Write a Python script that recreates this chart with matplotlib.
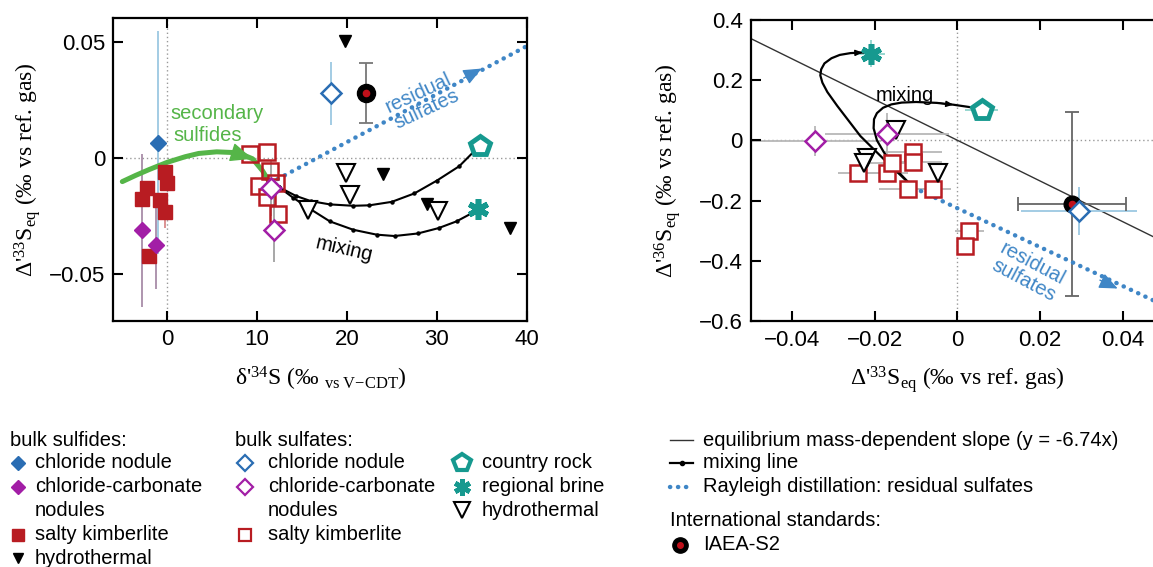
import matplotlib
matplotlib.use('Agg')
import matplotlib.pyplot as plt

plt.rcParams['font.family'] = ['Liberation Sans', 'DejaVu Sans']
plt.rcParams['mathtext.fontset'] = 'custom'
plt.rcParams['mathtext.rm'] = 'Liberation Serif'
plt.rcParams['mathtext.it'] = 'Liberation Serif:italic'
plt.rcParams['mathtext.bf'] = 'Liberation Serif:bold'

# ---------------- colours ----------------
C_BLUE = '#2a6db3'
C_PURPLE = '#a21ea6'
C_RED = '#b81c22'
C_TEAL = '#16998f'
C_DOT = '#3f86c6'
C_GREEN = '#55b548'
E_BLUE = '#9cc8e2'
E_GRAY = '#a0a0a0'
E_MAUVE = '#a88ca8'
E_RED = '#d98a8a'
E_TEAL = '#8fd3cc'

# ---------------- left panel data: d'34S vs D'33S ----------------
bs_cl_d34 = [-0.98]
bs_cl_d33 = [0.0066]
bs_cl_err = [0.048]

bs_cc_d34 = [-2.79, -1.24]
bs_cc_d33 = [-0.0312, -0.0374]
bs_cc_err = [0.033, 0.019]

bs_sk_d34 = [-2.79, -2.29, -0.79, -0.30, -0.03, -0.30, -2.00]
bs_sk_d33 = [-0.0175, -0.0131, -0.0182, -0.0059, -0.0110, -0.0232, -0.0424]
bs_sk_err = [0.002, 0.003, 0.003, 0.002, 0.002, 0.007, 0.002]

bs_hy_d34 = [19.74, 24.0, 28.9, 38.2]
bs_hy_d33 = [0.0503, -0.0070, -0.0197, -0.0302]

bo_cl_d34 = [18.26]
bo_cl_d33 = [0.0278]
bo_cl_err = [0.0135]

bo_cc_d34 = [11.55, 11.92]
bo_cc_d33 = [-0.0128, -0.0309]
bo_cc_err = [0.012, 0.014]

bo_sk_d34 = [9.2, 11.06, 11.44, 10.25, 12.1, 11.06, 12.3]
bo_sk_d33 = [0.0017, 0.0027, -0.0058, -0.0120, -0.0110, -0.0168, -0.0243]

bo_hy_d34 = [19.93, 20.38, 15.64, 30.17]
bo_hy_d33 = [-0.0063, -0.0160, -0.0222, -0.0229]

rock_d34 = [34.8]
rock_d33 = [0.0053]
brine_d34 = [34.6]
brine_d33 = [-0.0219]
iaea_d34 = [22.17]
iaea_d33 = [0.0278]
iaea_d33_err = [0.013]

mixA_d34 = [12.4, 14.35, 16.0, 18.1, 20.7, 22.5, 25.0, 27.5, 30.0, 32.5, 34.8]
mixA_d33 = [-0.0125, -0.0164, -0.0186, -0.0200, -0.0206, -0.0204, -0.0189, -0.0153, -0.0098, -0.0036, 0.0053]
mixB_d34 = [12.4, 14.0, 15.8, 18.1, 20.7, 23.3, 25.3, 27.9, 30.2, 32.2, 33.9, 34.6]
mixB_d33 = [-0.0125, -0.0171, -0.0217, -0.0273, -0.0309, -0.0330, -0.0336, -0.0325, -0.0302, -0.0273, -0.0238, -0.0219]

green_d34 = [-5.0, -3.5, -2.0, 0.0, 2.0, 3.5, 5.5, 7.3, 8.5, 9.5, 10.6, 11.4]
green_d33 = [-0.0102, -0.0075, -0.0050, -0.0019, 0.0005, 0.0019, 0.0026, 0.0023, 0.0012, -0.0004, -0.0055, -0.0106]

resid_d34 = [12.3, 40.0]
resid_d33 = [-0.0091, 0.0480]

# ---------------- right panel data: D'33S vs D'36S ----------------
r_bo_cl_33 = [0.0295]
r_bo_cl_36 = [-0.2346]
r_bo_cl_xerr = [0.014]
r_bo_cl_yerr = [0.08]

r_bo_cc_33 = [-0.0346, -0.0170]
r_bo_cc_36 = [-0.002, 0.020]
r_bo_cc_xerr = [0.016, 0.015]
r_bo_cc_yerr = [0.05, 0.07]

r_bo_sk_33 = [-0.0240, -0.0170, -0.0158, -0.0108, -0.0108, -0.0119, -0.0060, 0.0029, 0.0019]
r_bo_sk_36 = [-0.1095, -0.1095, -0.074, -0.039, -0.071, -0.1606, -0.163, -0.301, -0.351]
r_bo_sk_xerr = [0.005, 0.005, 0.006, 0.007, 0.007, 0.007, 0.0045, 0.0036, 0.002]

r_bo_hy_33 = [-0.0148, -0.0218, -0.0226, -0.0048]
r_bo_hy_36 = [0.033, -0.058, -0.074, -0.107]

r_rock_33 = [0.0059]
r_rock_36 = [0.102]
r_rock_xerr = [0.004]
r_brine_33 = [-0.0210]
r_brine_36 = [0.287]
r_brine_xerr = [0.0035]
r_brine_yerr = [0.044]
r_iaea_33 = [0.0277]
r_iaea_36 = [-0.212]
r_iaea_xerr = [0.013]
r_iaea_yerr = [0.305]

eq_slope = -6.74

r_mixA_33 = [-0.0110, -0.0150, -0.0178, -0.0195, -0.0203, -0.0202, -0.0195, -0.0180, -0.0160, -0.0135, -0.0100, -0.0050, -0.0010, 0.0030, 0.0055]
r_mixA_36 = [-0.152, -0.095, -0.040, 0.000, 0.040, 0.070, 0.090, 0.108, 0.119, 0.125, 0.127, 0.124, 0.118, 0.110, 0.103]
r_mixB_33 = [-0.0110, -0.0178, -0.0235, -0.0291, -0.0315, -0.0327, -0.0332, -0.0330, -0.0322, -0.0305, -0.0285, -0.0259, -0.0230, -0.0212]
r_mixB_36 = [-0.152, -0.063, 0.014, 0.114, 0.160, 0.191, 0.215, 0.235, 0.255, 0.272, 0.283, 0.289, 0.291, 0.289]

r_resid_33 = [-0.0106, 0.0520]
r_resid_36 = [-0.157, -0.560]

# ---------------- figure ----------------
fig = plt.figure(figsize=(11.53, 5.67), dpi=100)
ax1 = fig.add_axes([0.0983, 0.4344, 0.3584, 0.5333])
ax2 = fig.add_axes([0.6513, 0.4333, 0.3582, 0.5321])

dot_style = dict(color=C_DOT, lw=3.2, ls=(0, (0.05, 1.75)), dash_capstyle='round')


def arrowhead(ax, p0, p1, color, scale=20):
    ax.annotate('', xy=p1, xytext=p0,
                arrowprops=dict(arrowstyle='-|>,head_length=0.7,head_width=0.3',
                                color=color, lw=1.0, mutation_scale=scale,
                                shrinkA=0, shrinkB=0), zorder=6)


for ax in (ax1, ax2):
    ax.axhline(0, color='#999999', ls=(0, (1, 2)), lw=1.0, zorder=0)
    ax.axvline(0, color='#999999', ls=(0, (1, 2)), lw=1.0, zorder=0)
    for s in ax.spines.values():
        s.set_linewidth(1.6)
    ax.tick_params(direction='in', top=True, right=True, length=7, width=1.5,
                   labelsize=16, pad=6)

# ---- left panel ----
ax1.set_xlim(-6, 40)
ax1.set_ylim(-0.07, 0.06)

ax1.errorbar(bs_cl_d34, bs_cl_d33, yerr=bs_cl_err, fmt='none', ecolor=E_BLUE, elinewidth=1.3, zorder=1)
ax1.errorbar(bs_cc_d34, bs_cc_d33, yerr=bs_cc_err, fmt='none', ecolor=E_MAUVE, elinewidth=1.3, zorder=1)
ax1.errorbar(bs_sk_d34, bs_sk_d33, yerr=bs_sk_err, fmt='none', ecolor=E_RED, elinewidth=1.3, zorder=1)
ax1.errorbar(bo_cl_d34, bo_cl_d33, yerr=bo_cl_err, fmt='none', ecolor=E_BLUE, elinewidth=1.3, zorder=1)
ax1.errorbar(bo_cc_d34, bo_cc_d33, yerr=bo_cc_err, fmt='none', ecolor=E_GRAY, elinewidth=1.3, zorder=1)
ax1.errorbar(iaea_d34, iaea_d33, yerr=iaea_d33_err, fmt='none', ecolor='#777777', elinewidth=1.3,
             capsize=5, capthick=1.3, zorder=1)

ax1.plot(green_d34, green_d33, color=C_GREEN, lw=3.6, solid_capstyle='round', zorder=2)
arrowhead(ax1, (green_d34[7], green_d33[7]), (green_d34[9], green_d33[9]), C_GREEN, 20)
ax1.plot(resid_d34, resid_d33, zorder=2, **dot_style)
arrowhead(ax1, (33.0, 0.0343), (35.0, 0.0384), C_DOT, 16)
ax1.plot(mixA_d34, mixA_d33, color='black', lw=1.5, marker='o', ms=2.2, zorder=3)
ax1.plot(mixB_d34, mixB_d33, color='black', lw=1.5, marker='o', ms=2.2, zorder=3)

ax1.plot(bs_sk_d34, bs_sk_d33, 's', color=C_RED, ms=9.5, mec=C_RED, zorder=4)
ax1.plot(bs_cc_d34, bs_cc_d33, 'D', color=C_PURPLE, ms=8, zorder=4)
ax1.plot(bs_cl_d34, bs_cl_d33, 'D', color=C_BLUE, ms=8, zorder=4)
ax1.plot(bs_hy_d34, bs_hy_d33, 'v', color='black', ms=9, zorder=4)
ax1.plot(bo_sk_d34, bo_sk_d33, 's', mfc='none', mec=C_RED, mew=1.8, ms=11, zorder=4)
ax1.plot(bo_cc_d34, bo_cc_d33, 'D', mfc='white', mec=C_PURPLE, mew=1.8, ms=10, zorder=5)
ax1.plot(bo_cl_d34, bo_cl_d33, 'D', mfc='white', mec=C_BLUE, mew=1.8, ms=10, zorder=5)
ax1.plot(bo_hy_d34, bo_hy_d33, 'v', mfc='white', mec='black', mew=1.5, ms=13, zorder=4)
ax1.plot(rock_d34, rock_d33, 'p', mfc='white', mec=C_TEAL, mew=3.5, ms=15, zorder=5)
ax1.plot(brine_d34, brine_d33, marker=(6, 2, 0), ls='none', mec=C_TEAL, mew=4, ms=15, zorder=5)
ax1.plot(iaea_d34, iaea_d33, 'o', color='black', ms=13, zorder=5)
ax1.plot(iaea_d34, iaea_d33, 'o', color='#c0101a', ms=4.5, zorder=6)

ax1.text(0.4, 0.0191, 'secondary', color=C_GREEN, fontsize=14.5, ha='left', va='center')
ax1.text(0.7, 0.0097, 'sulfides', color=C_GREEN, fontsize=14.5, ha='left', va='center')
ax1.text(28.4, 0.0245, 'residual\nsulfates', color=C_DOT, fontsize=14.5, ha='center', va='center',
         rotation=25, rotation_mode='anchor', linespacing=0.95)
ax1.text(19.7, -0.0395, 'mixing', color='black', fontsize=14.5, ha='center', va='center', rotation=-13,
         rotation_mode='anchor')

ax1.set_xticks([0, 10, 20, 30, 40])
ax1.set_xticklabels(['0', '10', '20', '30', '40'])
ax1.set_yticks([-0.05, 0, 0.05])
ax1.set_yticklabels(['\u22120.05', '0', '0.05'])
ax1.set_ylabel("\u0394'$^{33}$S$_{\\rm eq}$ (\u2030 vs ref. gas)", fontfamily='Liberation Serif', fontsize=17)
ax1.set_xlabel("\u03b4'$^{34}$S (\u2030 $_{\\rm vs\\ V{-}CDT}$)", fontfamily='Liberation Serif', fontsize=17)
ax1.yaxis.set_label_coords(-0.17, 0.5)
ax1.xaxis.set_label_coords(0.503, -0.145)

# ---- right panel ----
ax2.set_xlim(-0.05, 0.05)
ax2.set_ylim(-0.6, 0.4)

ax2.axline((0, 0), slope=eq_slope, color='#333333', lw=1.0, zorder=1)

ax2.errorbar(r_bo_sk_33, r_bo_sk_36, xerr=r_bo_sk_xerr, fmt='none', ecolor='#b8b8b8', elinewidth=1.3, zorder=1)
ax2.errorbar(r_bo_cc_33, r_bo_cc_36, xerr=r_bo_cc_xerr, yerr=r_bo_cc_yerr, fmt='none', ecolor='#b8b8b8',
             elinewidth=1.3, zorder=1)
ax2.errorbar(r_bo_cl_33, r_bo_cl_36, xerr=r_bo_cl_xerr, yerr=r_bo_cl_yerr, fmt='none', ecolor=E_BLUE,
             elinewidth=1.3, zorder=1)
ax2.errorbar(r_rock_33, r_rock_36, xerr=r_rock_xerr, fmt='none', ecolor=E_TEAL, elinewidth=1.3, zorder=1)
ax2.errorbar(r_brine_33, r_brine_36, xerr=r_brine_xerr, yerr=r_brine_yerr, fmt='none', ecolor=E_TEAL,
             elinewidth=1.3, zorder=1)
ax2.errorbar(r_iaea_33, r_iaea_36, xerr=r_iaea_xerr, yerr=r_iaea_yerr, fmt='none', ecolor='#666666',
             elinewidth=1.3, capsize=5, capthick=1.3, zorder=2)

ax2.plot(r_resid_33, r_resid_36, zorder=2, **dot_style)
arrowhead(ax2, (0.0345, -0.4635), (0.0388, -0.4913), C_DOT, 16)
ax2.plot(r_mixA_33, r_mixA_36, color='black', lw=1.6, zorder=3)
ax2.plot(r_mixB_33, r_mixB_36, color='black', lw=1.6, zorder=3)
arrowhead(ax2, (r_mixB_33[11], r_mixB_36[11]), (r_mixB_33[12], r_mixB_36[12]), 'black', 6)
arrowhead(ax2, (r_mixA_33[11], r_mixA_36[11]), (r_mixA_33[12], r_mixA_36[12]), 'black', 6)

ax2.plot(r_bo_sk_33, r_bo_sk_36, 's', mfc='white', mec=C_RED, mew=1.8, ms=11, zorder=4)
ax2.plot(r_bo_hy_33, r_bo_hy_36, 'v', mfc='white', mec='black', mew=1.5, ms=13, zorder=4)
ax2.plot(r_bo_cc_33, r_bo_cc_36, 'D', mfc='white', mec=C_PURPLE, mew=1.8, ms=10, zorder=5)
ax2.plot(r_iaea_33, r_iaea_36, 'o', color='black', ms=12, zorder=5)
ax2.plot(r_iaea_33, r_iaea_36, 'o', color='#c0101a', ms=4.5, zorder=6)
ax2.plot(r_bo_cl_33, r_bo_cl_36, 'D', mfc='white', mec=C_BLUE, mew=1.8, ms=10, zorder=6)
ax2.plot(r_rock_33, r_rock_36, 'p', mfc='white', mec=C_TEAL, mew=3.5, ms=15, zorder=5)
ax2.plot(r_brine_33, r_brine_36, marker=(6, 2, 0), ls='none', mec=C_TEAL, mew=4, ms=15, zorder=5)

ax2.text(-0.0198, 0.147, 'mixing', color='black', fontsize=14.5, ha='left', va='center')
ax2.text(0.0170, -0.437, 'residual\nsulfates', color=C_DOT, fontsize=14.5, ha='center', va='center',
         rotation=-28, rotation_mode='anchor', linespacing=0.95)

ax2.set_xticks([-0.04, -0.02, 0, 0.02, 0.04])
ax2.set_xticklabels(['\u22120.04', '\u22120.02', '0', '0.02', '0.04'])
ax2.set_yticks([-0.6, -0.4, -0.2, 0, 0.2, 0.4])
ax2.set_yticklabels(['\u22120.6', '\u22120.4', '\u22120.2', '0', '0.2', '0.4'])
ax2.set_ylabel("\u0394'$^{36}$S$_{\\rm eq}$ (\u2030 vs ref. gas)", fontfamily='Liberation Serif', fontsize=17)
ax2.set_xlabel("\u0394'$^{33}$S$_{\\rm eq}$ (\u2030 vs ref. gas)", fontfamily='Liberation Serif', fontsize=17)
ax2.yaxis.set_label_coords(-0.165, 0.5)
ax2.xaxis.set_label_coords(0.499, -0.14)

# ---------------- legend (pixel layout) ----------------
lax = fig.add_axes([0, 0, 1, 1], zorder=10)
lax.set_xlim(0, 1153)
lax.set_ylim(567, 0)
lax.axis('off')
FS = 14.5

lax.text(10, 440, 'bulk sulfides:', fontsize=FS, va='center')
lax.plot([18], [463], 'D', color=C_BLUE, ms=7)
lax.text(35, 463, 'chloride nodule', fontsize=FS, va='center')
lax.plot([18], [487], 'D', color=C_PURPLE, ms=7)
lax.text(35, 487, 'chloride-carbonate', fontsize=FS, va='center')
lax.text(35, 510, 'nodules', fontsize=FS, va='center')
lax.plot([18], [535], 's', color=C_RED, ms=8)
lax.text(35, 535, 'salty kimberlite', fontsize=FS, va='center')
lax.plot([18], [558], 'v', color='black', ms=7)
lax.text(35, 558, 'hydrothermal', fontsize=FS, va='center')

lax.text(235, 440, 'bulk sulfates:', fontsize=FS, va='center')
lax.plot([245], [463], 'D', mfc='white', mec=C_BLUE, mew=1.6, ms=8)
lax.text(268, 463, 'chloride nodule', fontsize=FS, va='center')
lax.plot([245], [487], 'D', mfc='white', mec=C_PURPLE, mew=1.6, ms=8)
lax.text(268, 487, 'chloride-carbonate', fontsize=FS, va='center')
lax.text(268, 510, 'nodules', fontsize=FS, va='center')
lax.plot([245], [535], 's', mfc='white', mec=C_RED, mew=1.6, ms=8)
lax.text(268, 535, 'salty kimberlite', fontsize=FS, va='center')

lax.plot([462], [463], 'p', mfc='white', mec=C_TEAL, mew=3, ms=13)
lax.text(482, 463, 'country rock', fontsize=FS, va='center')
lax.plot([462], [487], marker=(6, 2, 0), ls='none', mec=C_TEAL, mew=3.5, ms=12)
lax.text(482, 487, 'regional brine', fontsize=FS, va='center')
lax.plot([462], [510], 'v', mfc='white', mec='black', mew=1.5, ms=11)
lax.text(482, 510, 'hydrothermal', fontsize=FS, va='center')

lax.plot([670, 693], [440, 440], color='#333333', lw=1.0)
lax.text(703, 440, 'equilibrium mass-dependent slope (y = -6.74x)', fontsize=FS, va='center')
lax.plot([670, 693], [463, 463], color='black', lw=1.6)
lax.plot([681.5], [463], 'o', color='black', ms=3)
lax.text(703, 463, 'mixing line', fontsize=FS, va='center')
lax.plot([670, 693], [487, 487], color=C_DOT, lw=3.2, ls=(0, (0.05, 1.75)), dash_capstyle='round')
lax.text(703, 487, 'Rayleigh distillation: residual sulfates', fontsize=FS, va='center')
lax.text(670, 521, 'International standards:', fontsize=FS, va='center')
lax.plot([680], [545], 'o', color='black', ms=11)
lax.plot([680], [545], 'o', color='#c0101a', ms=4)
lax.text(703, 545, 'IAEA-S2', fontsize=FS, va='center')

fig.savefig('out.png', dpi=100)
